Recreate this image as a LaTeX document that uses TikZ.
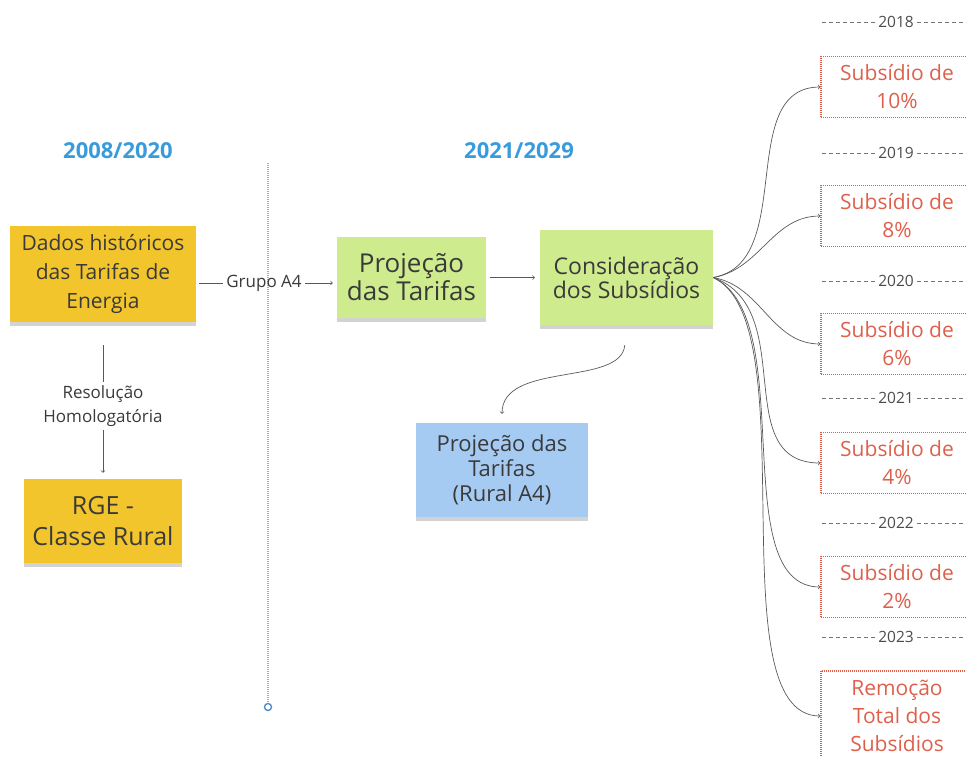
\documentclass[tikz,border=0pt]{standalone}
\usepackage{fontspec}
\setmainfont{Open Sans}
\usetikzlibrary{shadows}
\definecolor{notey}{RGB}{243,197,45}
\definecolor{noteg}{RGB}{206,235,142}
\definecolor{noteb}{RGB}{166,203,243}
\definecolor{subred}{RGB}{222,96,76}
\definecolor{titleb}{RGB}{58,155,220}
\definecolor{ink}{RGB}{58,58,58}
\definecolor{lineb}{RGB}{125,185,228}
\definecolor{dotb}{RGB}{80,140,205}
\tikzstyle{note} = [rectangle, align=center, text=ink, inner sep=0pt, drop shadow={shadow xshift=0pt, shadow yshift=-4pt, opacity=.35}]
\tikzstyle{subs} = [rectangle, draw=subred, dash pattern=on 1pt off 1pt, line width=1.1pt, text=subred, align=center, minimum width=152pt, minimum height=61pt, font=\fontsize{21}{28}\selectfont]
\tikzstyle{conn} = [draw=black!65, line width=.7pt]
\tikzstyle{year} = [text=black!70, font=\fontsize{15.5}{18}\selectfont]
\tikzstyle{yeardash} = [black!55, dash pattern=on 4pt off 3pt, line width=.8pt]
\tikzstyle{title} = [text=titleb, font=\bfseries\fontsize{22}{26}\selectfont]
\tikzstyle{lbl} = [text=ink, align=center, font=\fontsize{17}{24}\selectfont]

\begin{document}
\begin{tikzpicture}[x=1pt,y=-1pt]
    \useasboundingbox (0,0) rectangle (966,756);
    \clip (0,0) rectangle (966,756);
    \node[title] (per1) at (118,151) {2008/2020};
    \node[title] (per2) at (519,151) {2021/2029};
    \draw[lineb, dash pattern=on 1pt off 1pt, line width=1.3pt] (268,163) -- (268,703);
    \draw[dotb, line width=1.4pt, fill=white] (268,707) circle (3.5);
    \node[note, fill=notey, minimum width=186pt, minimum height=96pt, font=\fontsize{21}{29}\selectfont] (dados) at (103,274) {Dados históricos\\das Tarifas de\\Energia};
    \node[note, fill=notey, minimum width=158pt, minimum height=84pt, font=\fontsize{25}{31}\selectfont] (rge) at (103,521) {RGE -\\Classe Rural};
    \node[note, fill=noteg, minimum width=149pt, minimum height=81pt, font=\fontsize{26}{28}\selectfont] (proj) at (411.5,277.5) {Projeção\\das Tarifas};
    \node[note, fill=noteg, minimum width=173pt, minimum height=95pt, font=\fontsize{23}{24}\selectfont] (consid) at (626.5,277.5) {Consideração\\dos Subsídios};
    \node[note, fill=noteb, minimum width=172pt, minimum height=94pt, font=\fontsize{22}{25}\selectfont] (rural) at (502,470) {Projeção das\\Tarifas\\(Rural A4)};
    \node[lbl] (grupo) at (264,283) {Grupo A4};
    \node[lbl] (resol) at (103,406) {Resolução\\Homologatória};
    \draw[conn, shorten <=3pt] (grupo.west -| dados.east) -- (grupo.west);
    \draw[conn, ->, shorten >=4pt] (grupo.east) -- (grupo.east -| proj.west);
    \draw[conn, shorten <=23pt] (dados) -- (resol);
    \draw[conn, ->, shorten >=6pt] (resol) -- (rge);
    \draw[conn, ->, shorten <=4pt, shorten >=5pt] (proj) -- (consid);
    \draw[conn, ->, shorten <=20pt, shorten >=9pt] (consid.south) to[out=-95, in=90] (rural.north);
    \node[subs] (s1) at (897,87) {Subsídio de\\10\%};
    \node[subs] (s2) at (897,216) {Subsídio de\\8\%};
    \node[subs] (s3) at (897,344) {Subsídio de\\6\%};
    \node[subs] (s4) at (897,463) {Subsídio de\\4\%};
    \node[subs] (s5) at (897,587) {Subsídio de\\2\%};
    \node[subs, minimum height=90pt] (s6) at (897,716) {Remoção\\Total dos\\Subsídios};
    \foreach \s/\o/\l in {s1/10/1, s2/10/1, s3/-10/1, s4/-20/1.1, s5/-25/.75, s6/-25/.6}
        \draw[conn, ->] (consid.east) to[out=\o, in=180, looseness=\l] (\s.west);
    \foreach \y/\yr in {22/2018, 153/2019, 281/2020, 398/2021, 523/2022, 637/2023} {
        \node[year] (y\yr) at (896,\y) {\yr};
        \draw[yeardash] (y\yr.west) -- ++(-54,0);
        \draw[yeardash] (y\yr.east) -- ++(54,0);
    }
\end{tikzpicture}
\end{document}
